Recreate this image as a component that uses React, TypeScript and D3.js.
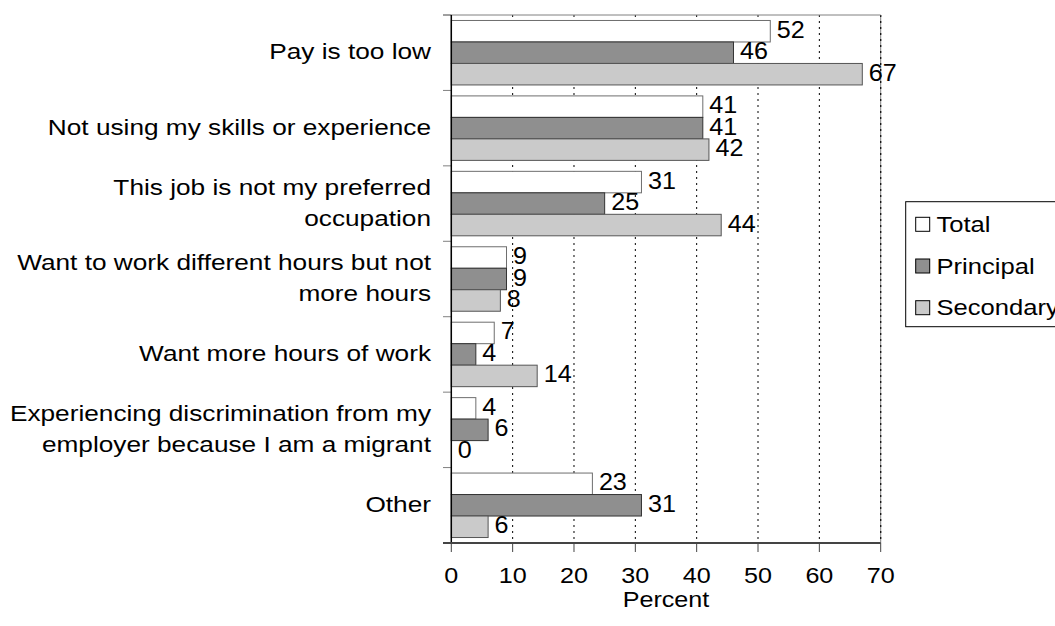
import React from "react";
import * as d3 from "d3";

const categories: string[][] = [
  ["Pay is too low"],
  ["Not using my skills or experience"],
  ["This job is not my preferred", "occupation"],
  ["Want to work different hours but not", "more hours"],
  ["Want more hours of work"],
  ["Experiencing discrimination from my", "employer because I am a migrant"],
  ["Other"],
];
const seriesNames = ["Total", "Principal", "Secondary"];
const totalValues = [52, 41, 31, 9, 7, 4, 23];
const principalValues = [46, 41, 25, 9, 4, 6, 31];
const secondaryValues = [67, 42, 44, 8, 14, 0, 6];
const xTicks = [0, 10, 20, 30, 40, 50, 60, 70];
const colors = ["#ffffff", "#8f8f8f", "#cacaca"];
const strokes = ["#6e6e6e", "#333333", "#555555"];

const W = 1055;
const H = 626;
const left = 451.3;
const right = 880.7;
const top = 15;
const bottom = 543;
const FONT = "'Liberation Sans', Arial, sans-serif";
const FS = 21.5;

function T(props: { x: number; y: number; sx?: number; fs?: number; anchor?: string; children: React.ReactNode }) {
  const { x, y, sx = 1.2, fs = FS, anchor = "start", children } = props;
  return (
    <text transform={`translate(${x},${y}) scale(${sx},1)`} fontSize={fs} fill="#000" textAnchor={anchor}>
      {children}
    </text>
  );
}

export default function App() {
  const x = d3.scaleLinear().domain([0, 70]).range([left, right]);
  const idx = categories.map((_, i) => String(i));
  const y = d3.scaleBand().domain(idx).range([top, bottom]).paddingInner(0).paddingOuter(0);
  const inner = d3.scaleBand().domain(seriesNames).range([0, y.bandwidth()]).paddingOuter(0.255).paddingInner(0);
  const series = [totalValues, principalValues, secondaryValues];
  const bw = inner.bandwidth();

  return (
    <svg width={W} height={H} style={{ position: "absolute", left: 0, top: 0, background: "#fff" }} fontFamily={FONT}>
      {xTicks.filter((t) => t > 0).map((t) => (
        <line key={"g" + t} x1={x(t)} x2={x(t)} y1={top} y2={bottom} stroke="#000" strokeWidth={1} strokeDasharray="2,4" />
      ))}
      <line x1={right} x2={right} y1={top} y2={bottom} stroke="#808080" strokeWidth={1} />
      <line x1={right} x2={right} y1={top} y2={bottom} stroke="#000" strokeWidth={1} strokeDasharray="2,4" />
      <line x1={443} x2={right} y1={top} y2={top} stroke="#808080" strokeWidth={1} />
      {categories.map((_, i) =>
        series.map((vals, s) => {
          const y0 = (y(String(i)) as number) + (inner(seriesNames[s]) as number);
          return (
            <rect key={`b${i}-${s}`} x={x(0)} y={y0} width={x(vals[i]) - x(0)} height={bw}
              fill={colors[s]} stroke={strokes[s]} strokeWidth={1} />
          );
        })
      )}
      {categories.map((_, i) =>
        series.map((vals, s) => {
          const y0 = (y(String(i)) as number) + (inner(seriesNames[s]) as number);
          return (
            <T key={`v${i}-${s}`} x={x(vals[i]) + 6.5} y={y0 + bw / 2 + 6.5} sx={1.07} fs={23.5}>
              {vals[i]}
            </T>
          );
        })
      )}
      {d3.range(categories.length + 1).map((k) => {
        const yy = top + k * y.bandwidth();
        return <line key={"ct" + k} x1={443} x2={left} y1={yy} y2={yy} stroke="#808080" strokeWidth={1} />;
      })}
      <line x1={left} x2={left} y1={top} y2={bottom} stroke="#000" strokeWidth={1.5} />
      <line x1={443} x2={right} y1={bottom} y2={bottom} stroke="#444" strokeWidth={2} />
      {xTicks.map((t) => (
        <g key={"xt" + t}>
          <line x1={x(t)} x2={x(t)} y1={bottom} y2={552} stroke="#444" strokeWidth={1} />
          <T x={x(t)} y={583} sx={1.17} anchor="middle">{t}</T>
        </g>
      ))}
      <T x={(left + right) / 2} y={607} sx={1.17} anchor="middle">Percent</T>
      {categories.map((lines, i) => {
        const c = (y(String(i)) as number) + y.bandwidth() / 2 - 1;
        const lh = 31;
        const start = c - ((lines.length - 1) * lh) / 2;
        return (
          <g key={"cl" + i}>
            {lines.map((ln, j) => (
              <T key={j} x={431} y={start + j * lh + 7.7} sx={1.22} anchor="end">{ln}</T>
            ))}
          </g>
        );
      })}
      <rect x={905.7} y={201.7} width={200} height={125} fill="#fff" stroke="#000" strokeWidth={1} />
      {seriesNames.map((n, s) => {
        const sy = 217.3 + s * 41.7;
        return (
          <g key={"lg" + n}>
            <rect x={915.7} y={sy} width={14} height={14} fill={colors[s]} stroke="#000" strokeWidth={1} />
            <T x={936.5} y={sy + 14.5} sx={1.19}>{n}</T>
          </g>
        );
      })}
    </svg>
  );
}
